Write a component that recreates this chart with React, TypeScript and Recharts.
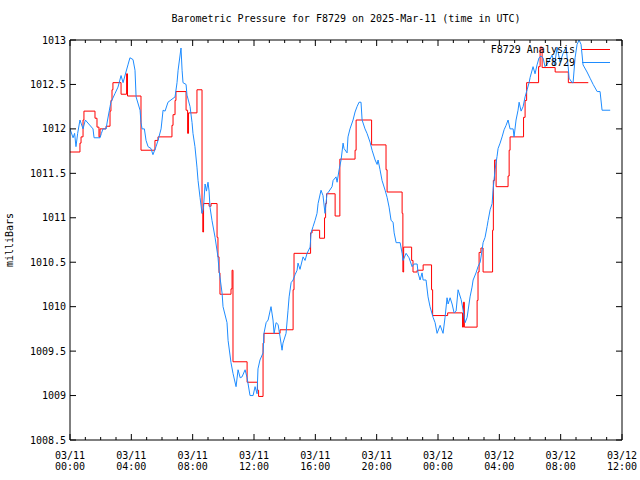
import { LineChart, Line, XAxis, YAxis, Legend } from 'recharts';

const FONT = '"DejaVu Sans Mono", "Liberation Mono", monospace';

const TITLE = 'Barometric Pressure for F8729 on 2025-Mar-11 (time in UTC)';
const ANALYSIS_NAME = 'F8729 Analysis';
const OBS_NAME = 'F8729';

// hours since 03/11 00:00 UTC
const hourTicks = [
  0, 1, 2, 3, 4, 5, 6, 7, 8, 9, 10, 11, 12, 13, 14, 15, 16, 17, 18,
  19, 20, 21, 22, 23, 24, 25, 26, 27, 28, 29, 30, 31, 32, 33, 34, 35, 36,
];
const dayLabels = ['03/11', '03/11', '03/11', '03/11', '03/11', '03/11', '03/12', '03/12', '03/12', '03/12'];
const timeLabels = ['00:00', '04:00', '08:00', '12:00', '16:00', '20:00', '00:00', '04:00', '08:00', '12:00'];
const yTicks = [1008.5, 1009, 1009.5, 1010, 1010.5, 1011, 1011.5, 1012, 1012.5, 1013];

// station observations
const obsHours = [
  0, 0.2, 0.3, 0.39, 0.5, 0.65, 0.85, 1.0, 1.5, 1.57, 1.96, 2.05, 2.15, 2.35, 2.45, 2.61, 2.67, 2.94,
  3.13, 3.33, 3.46, 3.65, 3.78, 3.91, 4.11, 4.24, 4.31, 4.57, 4.63, 4.7, 4.85, 4.96, 5.09, 5.28, 5.41,
  5.61, 5.74, 5.94, 6.07, 6.2, 6.39, 6.85, 6.98, 7.05, 7.24, 7.31, 7.37, 7.57, 7.63, 7.83, 7.96, 8.02,
  8.15, 8.28, 8.35, 8.48, 8.61, 8.7, 8.81, 8.9, 9.0, 9.07, 9.13, 9.26, 9.46, 9.65, 9.72, 9.92, 9.98,
  10.24, 10.31, 10.5, 10.63, 10.83, 10.96, 11.1, 11.22, 11.42, 11.55, 11.74, 11.94, 12.07, 12.2, 12.26,
  12.39, 12.59, 12.65, 12.79, 12.92, 13.11, 13.24, 13.31, 13.44, 13.57, 13.7, 13.83, 13.89, 14.09,
  14.22, 14.29, 14.42, 14.55, 14.68, 14.81, 14.87, 15.0, 15.2, 15.33, 15.46, 15.66, 15.72, 15.85,
  15.98, 16.11, 16.18, 16.37, 16.5, 16.63, 16.76, 16.9, 17.09, 17.16, 17.35, 17.42, 17.55, 17.68,
  17.81, 17.87, 18.07, 18.13, 18.26, 18.46, 18.59, 18.72, 18.85, 18.98, 19.05, 19.24, 19.37, 19.57,
  19.7, 19.9, 20.03, 20.09, 20.22, 20.35, 20.55, 20.68, 20.81, 20.94, 21.07, 21.14, 21.27, 21.53,
  21.66, 21.72, 21.92, 22.11, 22.31, 22.44, 22.64, 22.7, 22.83, 22.96, 23.03, 23.22, 23.35, 23.48,
  23.68, 23.81, 23.94, 24.14, 24.33, 24.46, 24.59, 24.66, 24.79, 24.92, 25.05, 25.18, 25.31, 25.51,
  25.64, 25.77, 25.9, 26.09, 26.22, 26.29, 26.48, 26.61, 26.75, 26.88, 26.94, 27.07, 27.2, 27.27,
  27.4, 27.53, 27.59, 27.72, 27.85, 27.92, 28.05, 28.18, 28.31, 28.44, 28.57, 28.7, 28.9, 28.96,
  29.09, 29.22, 29.29, 29.42, 29.55, 29.68, 29.81, 29.94, 30.01, 30.2, 30.33, 30.46, 30.59, 30.72,
  30.85, 30.98, 31.2, 31.44, 31.6, 31.77, 31.96, 32.16, 32.35, 32.49, 32.55, 32.75, 32.81, 32.94,
  33.07, 33.2, 33.33, 33.46, 33.72, 33.92, 34.12, 34.38, 34.57, 34.7, 35.23,
];
const obsValues = [
  1012.0, 1011.9, 1011.95, 1011.8, 1011.95, 1012.1, 1012.0, 1012.1, 1012.0, 1011.9, 1011.9, 1011.95,
  1012.0, 1012.0, 1012.1, 1012.25, 1012.3, 1012.4, 1012.47, 1012.6, 1012.52, 1012.64, 1012.72, 1012.8,
  1012.78, 1012.66, 1012.36, 1012.21, 1012.07, 1012.0, 1012.0, 1011.87, 1011.8, 1011.78, 1011.71,
  1011.8, 1011.87, 1012.0, 1012.21, 1012.2, 1012.3, 1012.36, 1012.52, 1012.66, 1012.91, 1012.66,
  1012.52, 1012.5, 1012.38, 1012.25, 1012.07, 1011.95, 1011.8, 1011.57, 1011.42, 1011.23, 1011.05,
  1011.1, 1011.38, 1011.3, 1011.4, 1011.3, 1011.12, 1010.97, 1010.78, 1010.56, 1010.41, 1010.15,
  1010.0, 1009.82, 1009.62, 1009.37, 1009.25, 1009.1, 1009.29, 1009.2, 1009.21, 1009.29, 1009.2,
  1009.0, 1009.0, 1009.1, 1009.02, 1009.3, 1009.4, 1009.48, 1009.7, 1009.82, 1009.85, 1010.0,
  1009.85, 1009.7, 1009.82, 1009.8, 1009.66, 1009.51, 1009.59, 1009.7, 1009.96, 1010.11, 1010.27,
  1010.3, 1010.36, 1010.41, 1010.49, 1010.42, 1010.56, 1010.52, 1010.6, 1010.67, 1010.83, 1010.9,
  1010.97, 1011.05, 1011.16, 1011.31, 1011.25, 1011.05, 1011.27, 1011.3, 1011.35, 1011.42, 1011.46,
  1011.4, 1011.54, 1011.65, 1011.84, 1011.78, 1011.73, 1011.91, 1012.0, 1012.1, 1012.19, 1012.25,
  1012.3, 1012.3, 1012.1, 1012.0, 1011.95, 1011.85, 1011.76, 1011.65, 1011.6, 1011.65, 1011.54,
  1011.42, 1011.31, 1011.23, 1011.12, 1010.97, 1010.95, 1010.83, 1010.72, 1010.72, 1010.6, 1010.52,
  1010.6, 1010.55, 1010.45, 1010.48, 1010.48, 1010.38, 1010.3, 1010.38, 1010.3, 1010.3, 1010.11,
  1010.0, 1009.88, 1009.82, 1009.7, 1009.79, 1009.7, 1009.88, 1010.1, 1010.03, 1010.1, 1010.03,
  1009.93, 1009.95, 1010.19, 1010.08, 1009.96, 1009.82, 1009.88, 1010.11, 1010.22, 1010.3, 1010.38,
  1010.45, 1010.5, 1010.64, 1010.72, 1010.78, 1010.9, 1010.97, 1011.09, 1011.16, 1011.31, 1011.54,
  1011.69, 1011.78, 1011.84, 1011.91, 1011.99, 1012.04, 1012.1, 1012.0, 1012.0, 1011.91, 1012.1,
  1012.21, 1012.3, 1012.2, 1012.25, 1012.36, 1012.44, 1012.52, 1012.58, 1012.7, 1012.62, 1012.72,
  1012.8, 1012.82, 1012.8, 1012.7, 1012.75, 1012.83, 1012.72, 1012.92, 1012.75, 1012.85, 1012.92,
  1012.7, 1012.57, 1012.52, 1012.52, 1012.8, 1012.95, 1013.0, 1012.95, 1012.72, 1012.64, 1012.57,
  1012.5, 1012.42, 1012.42, 1012.21, 1012.21,
];

// analysis: value holds from each hour mark until the next one
const analysisHours = [
  0, 0.65, 0.72, 0.85, 0.91, 1.63, 1.76, 1.89, 1.96, 2.35, 2.61, 2.67, 2.74, 2.8, 3.33, 3.69, 3.75,
  4.63, 5.54, 5.74, 6.65, 6.72, 6.85, 6.91, 7.57, 7.67, 7.73, 8.28, 8.61, 8.66, 8.71, 9.07, 9.2, 9.59,
  9.65, 9.72, 9.78, 10.5, 10.57, 10.63, 11.55, 12.23, 12.3, 12.59, 12.65, 13.7, 14.55, 14.61, 15.69,
  15.79, 16.28, 16.6, 16.67, 16.73, 17.29, 17.6, 18.59, 18.66, 19.67, 20.61, 20.68, 21.66, 21.71,
  21.76, 22.28, 22.37, 22.64, 23.03, 23.58, 23.65, 24.63, 25.6, 25.66, 25.72, 26.55, 26.61, 26.68,
  26.8, 26.94, 27.56, 27.61, 27.69, 27.79, 28.57, 28.64, 28.7, 29.58, 29.68, 29.78, 30.56, 30.66,
  30.79, 31.64, 32.5, 33.8,
];
const analysisValues = [
  1011.74, 1011.84, 1011.91, 1012.1, 1012.2, 1012.12, 1012.02, 1011.91, 1012.0, 1012.03, 1012.2,
  1012.32, 1012.44, 1012.52, 1012.39, 1012.62, 1012.37, 1011.76, 1011.87, 1011.91, 1012.04, 1012.16,
  1012.32, 1012.42, 1012.21, 1011.95, 1012.18, 1012.44, 1011.05, 1010.84, 1011.16, 1011.13, 1011.16,
  1010.78, 1010.56, 1010.38, 1010.14, 1010.2, 1010.41, 1009.38, 1009.15, 1009.06, 1008.99, 1009.59,
  1009.7, 1009.74, 1010.19, 1010.6, 1010.83, 1010.86, 1010.77, 1011.0, 1011.16, 1011.27, 1011.02,
  1011.66, 1011.76, 1012.1, 1011.82, 1011.54, 1011.29, 1011.05, 1010.39, 1010.67, 1010.52, 1010.39,
  1010.41, 1010.47, 1010.19, 1009.9, 1009.93, 1009.77, 1010.05, 1009.77, 1010.07, 1010.39, 1010.61,
  1010.66, 1010.39, 1010.86, 1011.42, 1011.65, 1011.35, 1011.47, 1011.76, 1011.91, 1012.13, 1012.32,
  1012.52, 1012.7, 1012.92, 1012.69, 1012.64, 1012.52, 1012.52,
];

const ANALYSIS_COLOR = '#ff0000';
const OBS_COLOR = '#1e8cff';

const obsData = obsHours.map((t, i) => ({ t, v: obsValues[i] }));
const analysisData = analysisHours.map((t, i) => ({ t, v: analysisValues[i] }));

const tickText = { fontFamily: FONT, fontSize: 10, fill: '#000' };

const BottomTick = ({ x, y, payload }: any) => {
    const h = payload.value;
    const major = h % 4 === 0;
    const idx = h / 4;
    return (
        <g>
            <line x1={x} x2={x} y1={y} y2={y - (major ? 6 : 3)} stroke="#000" />
            {major && (
                <text x={x} y={y + 19} textAnchor="middle" style={tickText}>
                    <tspan x={x}>{dayLabels[idx]}</tspan>
                    <tspan x={x} dy={11}>{timeLabels[idx]}</tspan>
                </text>
            )}
        </g>
    );
};

const TopTick = ({ x, y, payload }: any) => {
    const major = payload.value % 4 === 0;
    return <line x1={x} x2={x} y1={y} y2={y + (major ? 6 : 3)} stroke="#000" />;
};

const LeftTick = ({ x, y, payload }: any) => (
    <g>
        <line x1={x} x2={x + 6} y1={y} y2={y} stroke="#000" />
        <text x={x - 4} y={y + 3.5} textAnchor="end" style={tickText}>
            {payload.value}
        </text>
    </g>
);

const RightTick = ({ x, y }: any) => <line x1={x} x2={x - 6} y1={y} y2={y} stroke="#000" />;

const legendItems = [
    { name: ANALYSIS_NAME, color: ANALYSIS_COLOR },
    { name: OBS_NAME, color: OBS_COLOR },
];

const renderLegend = () => (
    <div style={{ fontFamily: FONT, fontSize: 10, lineHeight: '13px', color: '#000' }}>
        {legendItems.map((item) => (
            <div key={item.name} style={{ display: 'flex', alignItems: 'center', justifyContent: 'flex-end' }}>
                <span>{item.name}</span>
                <span
                    style={{
                        display: 'inline-block',
                        width: 28,
                        height: 1,
                        background: item.color,
                        marginLeft: 7,
                    }}
                />
            </div>
        ))}
    </div>
);

const App = () => {
    return (
        <div style={{ position: 'absolute', left: 0, top: 0, width: 640, height: 480, background: '#fff' }}>
            <div
                style={{
                    position: 'absolute',
                    left: 70,
                    top: 13,
                    width: 552,
                    textAlign: 'center',
                    fontFamily: FONT,
                    fontSize: 10,
                    lineHeight: '12px',
                }}
            >
                {TITLE}
            </div>
            <div
                style={{
                    position: 'absolute',
                    left: 10,
                    top: 240,
                    transform: 'translate(-50%, -50%) rotate(-90deg)',
                    fontFamily: FONT,
                    fontSize: 10,
                    lineHeight: '12px',
                    whiteSpace: 'nowrap',
                }}
            >
                milliBars
            </div>
            <LineChart width={640} height={480} margin={{ top: 39, right: 17, bottom: 0, left: 0 }}>
                <XAxis
                    xAxisId="bottom"
                    dataKey="t"
                    type="number"
                    domain={[0, 36]}
                    ticks={hourTicks}
                    interval={0}
                    height={40}
                    tickSize={0}
                    tickMargin={0}
                    tick={<BottomTick />}
                    axisLine={{ stroke: '#000' }}
                    allowDataOverflow
                />
                <XAxis
                    xAxisId="top"
                    dataKey="t"
                    orientation="top"
                    type="number"
                    domain={[0, 36]}
                    ticks={hourTicks}
                    interval={0}
                    height={1}
                    tickSize={0}
                    tickMargin={0}
                    tick={<TopTick />}
                    axisLine={{ stroke: '#000' }}
                    allowDataOverflow
                />
                <YAxis
                    yAxisId="left"
                    type="number"
                    domain={[1008.5, 1013]}
                    ticks={yTicks}
                    interval={0}
                    width={70}
                    tickSize={0}
                    tickMargin={0}
                    tick={<LeftTick />}
                    axisLine={{ stroke: '#000' }}
                    allowDataOverflow
                />
                <YAxis
                    yAxisId="right"
                    orientation="right"
                    type="number"
                    domain={[1008.5, 1013]}
                    ticks={yTicks}
                    interval={0}
                    width={1}
                    tickSize={0}
                    tickMargin={0}
                    tick={<RightTick />}
                    axisLine={{ stroke: '#000' }}
                    allowDataOverflow
                />
                <Legend
                    layout="vertical"
                    align="center"
                    verticalAlign="middle"
                    content={renderLegend}
                    wrapperStyle={{ top: 43, left: 418, width: 192 }}
                />
                <Line
                    xAxisId="top"
                    yAxisId="right"
                    data={analysisData}
                    dataKey="v"
                    name={ANALYSIS_NAME}
                    type="stepAfter"
                    stroke={ANALYSIS_COLOR}
                    strokeWidth={1}
                    dot={false}
                    activeDot={false}
                    isAnimationActive={false}
                />
                <Line
                    xAxisId="bottom"
                    yAxisId="left"
                    data={obsData}
                    dataKey="v"
                    name={OBS_NAME}
                    type="linear"
                    stroke={OBS_COLOR}
                    strokeWidth={1}
                    dot={false}
                    activeDot={false}
                    isAnimationActive={false}
                />
            </LineChart>
        </div>
    );
};

export default App;
